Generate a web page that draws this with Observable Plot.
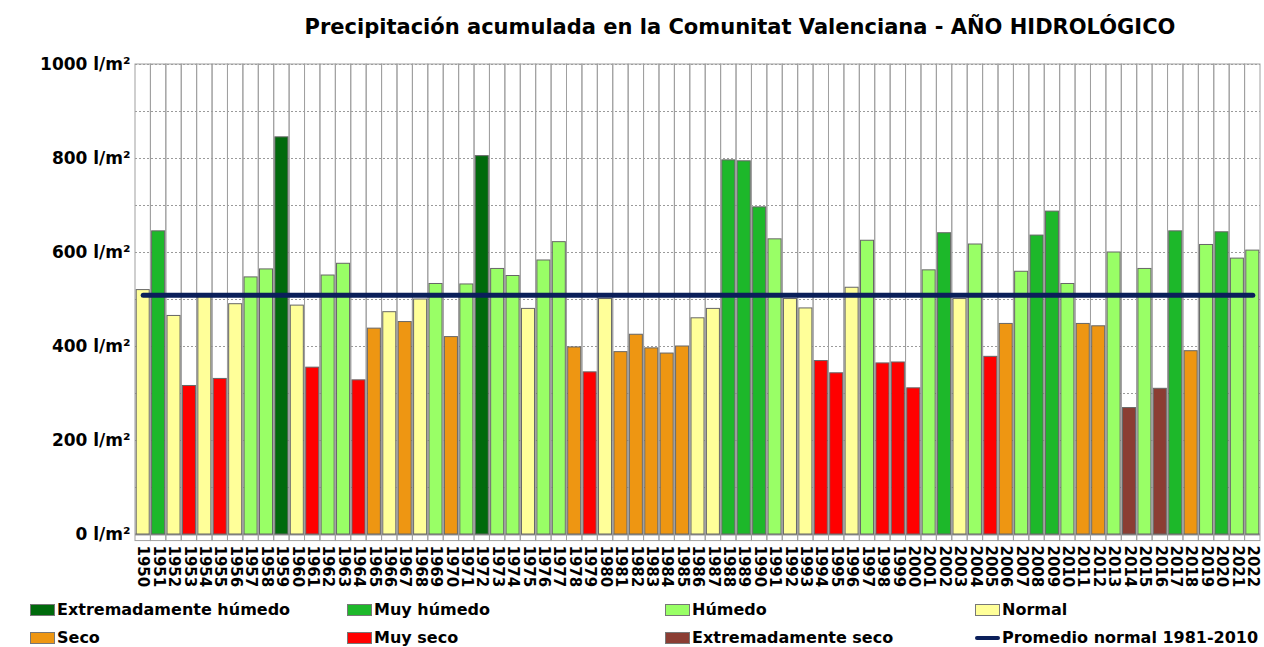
<!DOCTYPE html>
<html><head><meta charset="utf-8">
<script src="https://cdn.jsdelivr.net/npm/d3@7"></script>
<script src="https://cdn.jsdelivr.net/npm/@observablehq/plot@0.6"></script>
<style>
html,body{margin:0;padding:0;background:#fff;overflow:hidden;width:1264px;height:647px}
#wrap{position:relative;width:1264px;height:647px;font-family:"DejaVu Sans",Verdana,sans-serif;color:#000;overflow:hidden}
#title{position:absolute;left:740px;top:15px;transform:translateX(-50%);white-space:nowrap;font-weight:bold;font-size:21px}
#chart{position:absolute;left:0;top:52px;width:1264px}
#chart svg{max-width:none !important;overflow:visible}
.lg{position:absolute;display:flex;align-items:center;font-weight:bold;font-size:16px;white-space:nowrap}
.sw{width:25px;height:12px;margin-right:2px;box-sizing:border-box;border:1px solid #777}
.ln{width:25px;height:4px;border-radius:2px;background:#0b1f5a;margin-right:2px}
</style></head>
<body><div id="wrap">
<div id="title">Precipitación acumulada en la Comunitat Valenciana - AÑO HIDROLÓGICO</div>
<div id="chart"></div>
<div id="legend"></div>
</div>
<script>
const years = d3.range(1950, 2023);
const values = [520,645,465,316,507,331,490,547,564,845,
  487,355,551,576,328,438,473,452,500,533,
  420,532,805,565,550,480,583,622,398,345,
  501,388,425,396,385,400,460,480,796,794,
  696,628,501,481,369,343,525,625,364,366,
  311,562,641,501,617,378,448,559,636,687,
  533,448,443,600,269,565,310,645,390,616,
  643,587,604];
const classes = ["N","MH","N","MS","N","MS","N","H","H","EH",
  "N","MS","H","H","MS","S","N","S","N","H",
  "S","H","EH","H","H","N","H","H","S","MS",
  "N","S","S","S","S","S","N","N","MH","MH",
  "MH","H","N","N","MS","MS","N","H","MS","MS",
  "MS","H","MH","N","H","MS","S","H","MH","MH",
  "H","S","S","H","ES","H","ES","MH","S","H",
  "MH","H","H"];
const classKeys = ["EH","MH","H","N","S","MS","ES"];
const classNames = ["Extremadamente húmedo","Muy húmedo","Húmedo","Normal","Seco","Muy seco","Extremadamente seco"];
const classColors = ["#006a0c","#1db82a","#99ff66","#ffff99","#ee9612","#ff0000","#8b3d33"];
const normalValue = 509;
const normalLabel = "Promedio normal 1981-2010";
const yTicks = [0,200,400,600,800,1000];
const yMinor = d3.range(0, 1001, 100);

const data = years.map((y,i) => ({year: y, value: values[i], cls: classes[i]}));
const colorOf = Object.fromEntries(classKeys.map((k,i)=>[k,classColors[i]]));

const plot = Plot.plot({
  width: 1264, height: 545,
  marginLeft: 135, marginRight: 4, marginTop: 12, marginBottom: 63,
  style: {fontFamily: "DejaVu Sans, Verdana, sans-serif", color: "#000", background: "transparent", maxWidth: "none", overflow: "visible"},
  x: {type: "band", domain: years, padding: 0, round: false, label: null},
  y: {domain: [0, 1000], label: null},
  marks: [
    Plot.gridY(yMinor, {stroke: "#9a9a9a", strokeOpacity: 1, strokeDasharray: "2,2"}),
    Plot.barY(years, {x: d => d, y1: -14, y2: 1000, fill: "none", stroke: "#a0a0a0", strokeWidth: 1, inset: 0}),
    Plot.ruleY([0], {stroke: "#999", strokeWidth: 2}),
    Plot.barY(data, {x: "year", y: "value", fill: d => colorOf[d.cls], stroke: "#666", strokeWidth: 1, insetLeft: 1.2, insetRight: 1.2}),
    Plot.lineY(years, {x: d => d, y: () => normalValue, stroke: "#0b1f5a", strokeWidth: 5, strokeLinecap: "round"}),
    Plot.axisY({ticks: yTicks, tickFormat: d => d + " l/m²", tickSize: 0, tickPadding: 5, fontSize: 17, fontWeight: "bold"}),
    Plot.axisX({tickRotate: 90, tickSize: 0, tickPadding: 11, fontSize: 15, fontWeight: "bold", tickFormat: d => String(d)})
  ]
});
document.getElementById("chart").appendChild(plot);

const legend = document.getElementById("legend");
const colsX = [30, 347, 665, 975];
const rowsY = [600, 628];
const items = classKeys.map((k,i)=>({name: classNames[i], color: classColors[i]}));
items.push({name: normalLabel, line: true});
items.forEach((it, i) => {
  const el = document.createElement("div");
  el.className = "lg";
  el.style.left = colsX[i % 4] + "px";
  el.style.top = rowsY[Math.floor(i / 4)] + "px";
  const s = document.createElement("div");
  if (it.line) { s.className = "ln"; } else { s.className = "sw"; s.style.background = it.color; }
  el.appendChild(s);
  const t = document.createElement("span");
  t.textContent = it.name;
  el.appendChild(t);
  legend.appendChild(el);
});
</script>
</body></html>
